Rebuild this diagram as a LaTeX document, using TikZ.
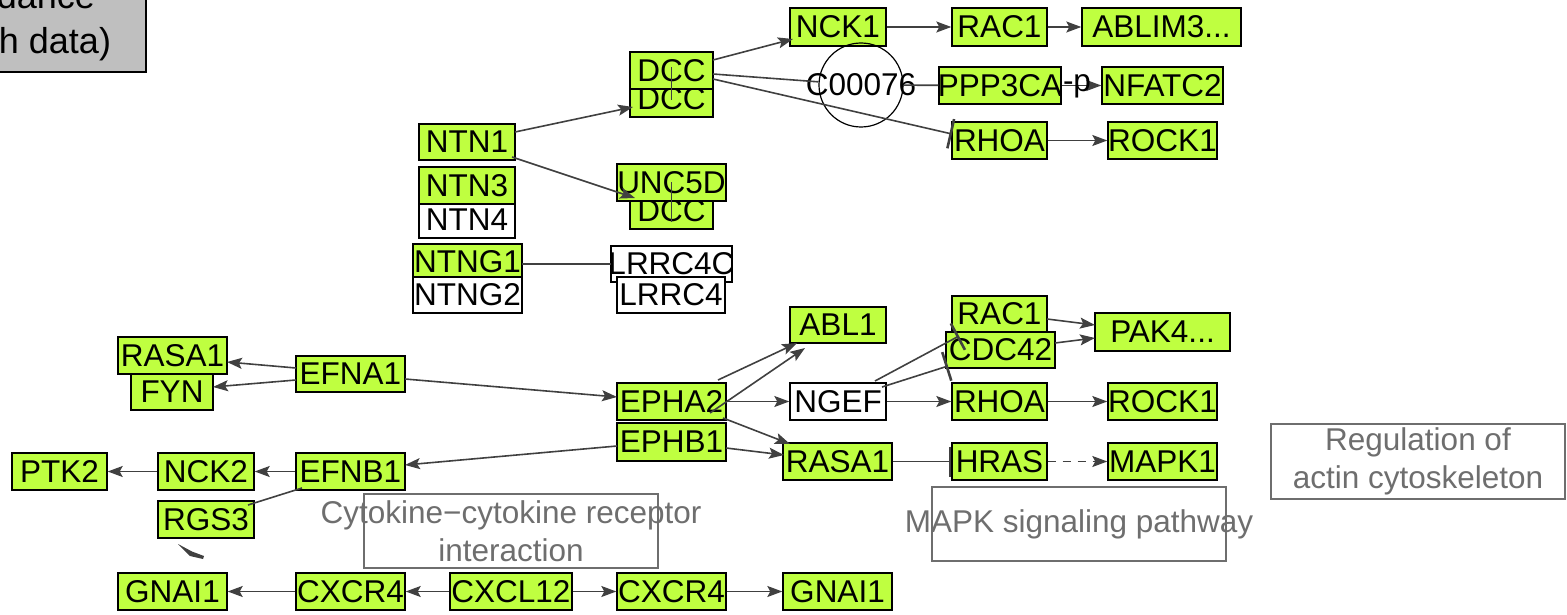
\documentclass[tikz,border=0pt]{standalone}
\usepackage{fontspec}
\setmainfont{Liberation Sans}
\usetikzlibrary{arrows.meta,calc}
\definecolor{gfill}{RGB}{191,255,64}
\definecolor{ecol}{RGB}{64,64,64}
\definecolor{rcol}{RGB}{110,110,110}
\definecolor{tgray}{RGB}{191,191,191}
\tikzset{
  gene/.style={draw=black, line width=1.4pt, fill=gfill, inner sep=0pt, font=\fontsize{31.5}{37}\selectfont},
  wgene/.style={gene, fill=white},
  cpd/.style={draw=black, line width=1.2pt, circle, inner sep=0pt, minimum size=84pt, font=\fontsize{31.5}{37}\selectfont},
  edge/.style={draw=ecol, line width=1.6pt},
  act/.style={edge, -{Stealth[length=15pt,width=11pt,inset=3pt]}},
  inh/.style={edge, -{Bar[width=30pt,line width=2.6pt]}},
  regbox/.style={draw=rcol, line width=1.5pt, inner sep=0pt},
  regtext/.style={text=rcol, inner sep=0pt, align=center, font=\fontsize{31.5}{38}\selectfont},
  titlebox/.style={draw=black, line width=1.4pt, fill=tgray, inner sep=0pt},
  titletext/.style={inner sep=0pt, align=center, font=\fontsize{36}{45}\selectfont},
  elabel/.style={inner sep=0pt, font=\fontsize{31.5}{37}\selectfont},
}
\newcommand\gn[7][gene]{\node[#1, minimum width={#5-#3}, minimum height={#6-#4}] (#2) at ({(#3+#5)/2},{(#4+#6)/2}) {\makebox[0pt]{#7}};}
\begin{document}
\begin{tikzpicture}[x=1pt,y=-1pt]
\useasboundingbox (0,0) rectangle (1567,615);
\clip (0,0) rectangle (1567,615);

% title box
\node[titlebox, minimum width=400, minimum height=160] (title) at (-54,-8) {};
\node[titletext] (titlet) at (-24,21.4) {Axon guidance\\(graph with data)};

% pathway regions
\node[regbox, minimum width=294, minimum height=74] (cytobox) at (511,531) {};
\node[regtext] (cytotext) at (cytobox.center) {Cytokine−cytokine receptor\\interaction};
\node[regbox, minimum width=294, minimum height=74] (mapkbox) at (1079,524) {};
\node[regtext] (mapktext) at (mapkbox.center) {MAPK signaling pathway};
\node[regbox, minimum width=294, minimum height=75] (actbox) at (1418,461.5) {};
\node[regtext] (acttext) at (actbox.center) {Regulation of\\actin cytoskeleton};

% upper cluster
\gn{DCCb}{630}{80}{713}{117}{DCC}
\gn{DCCa}{630}{52}{713}{89}{DCC}
\gn{NTN1}{419}{124}{515}{160}{NTN1}
\gn[wgene]{NTN4}{419}{202}{515}{238}{NTN4}
\gn{NTN3}{419}{167}{515}{204}{NTN3}
\gn{DCCc}{630}{192}{713}{229}{DCC}
\gn{UNC5D}{617}{164}{726}{201}{UNC5D}
\gn{NTNG1}{413}{244}{522}{279}{NTNG1}
\gn[wgene]{NTNG2}{413}{277}{522}{313}{NTNG2}
\gn[wgene]{LRRC4C}{611}{246}{732}{282}{LRRC4C}
\gn[wgene]{LRRC4}{617}{277}{725}{313}{LRRC4}
\gn{NCK1}{790}{8}{886}{46}{NCK1}
\gn{RACa}{952}{8}{1047}{46}{RAC1}
\gn{ABLIM}{1082}{8}{1241}{46}{ABLIM3...}
\gn{PPP3CA}{939}{67}{1061}{104}{PPP3CA}
\gn{NFATC2}{1102}{67}{1223}{104}{NFATC2}
\gn{RHOAa}{952}{122}{1047}{159}{RHOA}
\gn{ROCKa}{1108}{122}{1217}{159}{ROCK1}
\node[cpd] (C00076) at (861,85) {\makebox[0pt]{C00076}};

% lower cluster
\gn{RASAL}{118}{337}{227}{374}{RASA1}
\gn{FYN}{131}{374}{213}{410}{FYN}
\gn{EFNA1}{296}{356}{405}{392}{EFNA1}
\gn{PTK2}{12}{453}{107}{490}{PTK2}
\gn{NCK2}{158}{453}{254}{490}{NCK2}
\gn{EFNB1}{296}{453}{405}{490}{EFNB1}
\gn{RGS3}{158}{501}{254}{538}{RGS3}
\gn{GNAIL}{118}{573}{227}{610}{GNAI1}
\gn{CXCRL}{296}{573}{405}{610}{CXCR4}
\gn{CXCL12}{450}{573}{572}{610}{CXCL12}
\gn{CXCRR}{617}{573}{726}{610}{CXCR4}
\gn{GNAIR}{783}{573}{892}{610}{GNAI1}
\gn{ABL1}{790}{307}{886}{343}{ABL1}
\gn{EPHA2}{617}{383}{726}{420}{EPHA2}
\gn{EPHB1}{617}{423}{726}{461}{EPHB1}
\gn[wgene]{NGEF}{790}{383}{886}{420}{NGEF}
\gn{RASAR}{783}{443}{892}{480}{RASA1}
\gn{RACb}{952}{296}{1047}{332}{RAC1}
\gn{CDC42}{946}{332}{1055}{368}{CDC42}
\gn{PAK4}{1095}{313}{1230}{351}{PAK4...}
\gn{RHOAb}{952}{383}{1047}{420}{RHOA}
\gn{ROCKb}{1108}{383}{1217}{420}{ROCK1}
\gn{HRAS}{952}{443}{1047}{480}{HRAS}
\gn{MAPK1}{1108}{443}{1217}{480}{MAPK1}

% upper edges
\draw[act] ($(NTN1)+(48,-10)$) -- ($(DCCb)+(-38.5,8.5)$);
\draw[act] ($(NTN1)+(45,15)$) -- ($(UNC5D)+(-36.5,15.5)$);
\draw[edge] ($(NTNG1)+(54.5,2.5)$) -- ($(LRRC4C)+(-60.5,0)$);
\draw[edge] ($(DCCa)+(0,-3)$) -- ($(DCCb)+(0,1.5)$);
\draw[edge] (UNC5D.center) -- ($(DCCc)+(0,11.5)$);
\draw[act] ($(DCCa)+(41.5,-10.5)$) -- ($(NCK1)+(-45,12)$);
\draw[edge] ($(DCCa)+(41.5,3.5)$) -- (C00076);
\draw[edge] (C00076) -- (PPP3CA);
\draw[inh] ($(DCCa)+(41.5,8.5)$) -- ($(RHOAa)+(-47.5,-6.5)$);
\draw[act] (NCK1) -- (RACa);
\draw[act] (RACa) -- (ABLIM);
\draw[act] (PPP3CA) -- (NFATC2);
\node[elabel] (plabel) at (1077,86) {-p};
\draw[act] (RHOAa) -- (ROCKa);

% lower edges
\draw[act] ($(EFNA1)+(-54.5,-6)$) -- ($(RASAL)+(54.5,6.5)$);
\draw[act] ($(EFNA1)+(-54.5,6)$) -- ($(FYN)+(41,-5)$);
\draw[act] ($(EFNA1)+(54.5,5)$) -- ($(EPHA2)+(-54.5,-4.5)$);
\draw[act] (EFNB1) -- (NCK2);
\draw[act] (NCK2) -- (PTK2);
\draw[edge] ($(EFNB1)+(-48.5,16.5)$) -- ($(RGS3)+(42,-14.5)$);
\fill[ecol] (178,544) -- (192,551.5) -- (204,556) -- (203,559) -- (190,556) -- cycle;
\draw[act] (CXCRL) -- (GNAIL);
\draw[act] (CXCL12) -- (CXCRL);
\draw[act] (CXCL12) -- (CXCRR);
\draw[act] (CXCRR) -- (GNAIR);
\draw[act] ($(EPHB1)+(-54.5,4)$) -- ($(EFNB1)+(54.5,-6.5)$);
\draw[act] ($(EPHA2)+(46.5,-21.5)$) -- ($(ABL1)+(-41,18)$);
\draw[act] ($(EPHB1)+(38.5,-29)$) -- ($(ABL1)+(-33,23)$);
\draw[act] (EPHA2) -- (NGEF);
\draw[act] ($(EPHA2)+(51.5,16.5)$) -- ($(RASAR)+(-47.5,-17.5)$);
\draw[act] ($(EPHB1)+(54.5,6)$) -- ($(RASAR)+(-53.5,-6.5)$);
\draw[inh] ($(NGEF)+(37,-20.5)$) -- ($(RACb)+(-40.5,22)$);
\draw[inh] ($(NGEF)+(44,-14.5)$) -- ($(CDC42)+(-52.5,16)$);
\draw[act] (NGEF) -- (RHOAb);
\draw[act] ($(RACb)+(47.5,5)$) -- ($(PAK4)+(-67.5,-7)$);
\draw[act] ($(CDC42)+(54.5,-7)$) -- ($(PAK4)+(-67.5,6)$);
\draw[act] (RHOAb) -- (ROCKb);
\draw[inh] (RASAR) -- (HRAS);
\draw[act, dash pattern=on 8pt off 7pt] (HRAS) -- (MAPK1);
\end{tikzpicture}
\end{document}
